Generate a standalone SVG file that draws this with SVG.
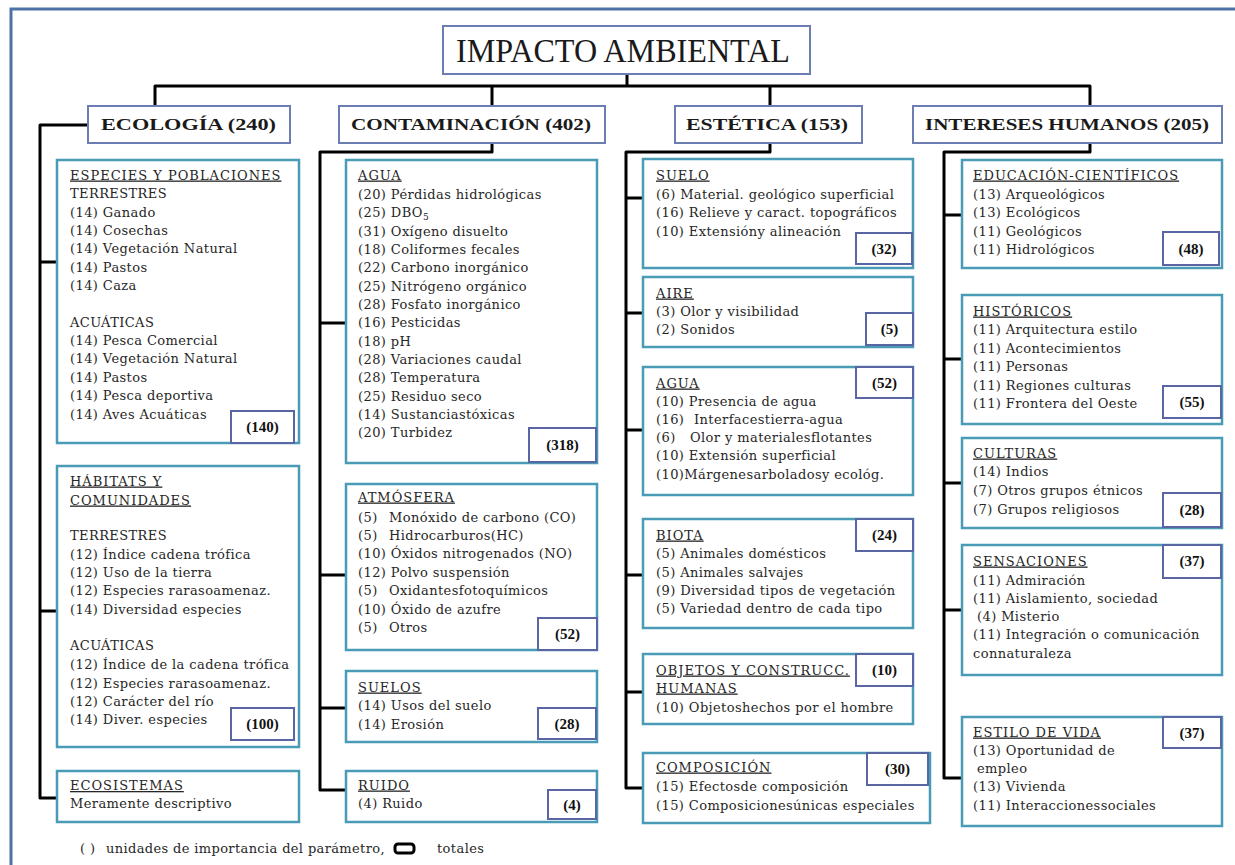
<svg xmlns="http://www.w3.org/2000/svg" width="1235" height="865" viewBox="0 0 1235 865">
<style>
.frame{fill:#fff;stroke:#4f72a6;stroke-width:3}
.sub{fill:#fff;stroke:#4a9bb5;stroke-width:2.5}
.cat{fill:#fff;stroke:#6b7db3;stroke-width:2}
.tot{fill:#fff;stroke:#5a65a3;stroke-width:2}
.t{font-family:"DejaVu Serif","Liberation Serif",serif;font-size:13px;letter-spacing:0.4px;fill:#262626}
.h{text-decoration:underline;letter-spacing:1px}
.tt{font-family:"Liberation Serif",serif;font-weight:bold;font-size:15px;text-anchor:middle;fill:#111}
.ct{font-family:"Liberation Serif",serif;font-weight:bold;font-size:17px;fill:#1a1a1a}
.title{font-family:"Liberation Serif",serif;font-size:34px;fill:#1a1a1a}
.conn path{stroke:#000;stroke-width:3;fill:none;stroke-linejoin:round}
</style>
<rect class="frame" x="11" y="9" width="1240" height="880"/>

<g class="conn" id="connectors">
<path d="M627,74 V86 M155,106 V86 H1090 V106 M492,86 V106 M770,86 V106"/>
<path d="M88,125 H40 V798 H57 M40,262 H57 M40,611 H57"/>
<path d="M492,143 V152 H320 V790 H346 M320,323 H346 M320,575 H346 M320,708 H346"/>
<path d="M770,143 V152 H626 V788 H643 M626,198 H643 M626,313 H643 M626,430 H643 M626,575 H643 M626,692 H643"/>
<path d="M1090,143 V152 H944 V778 H962 M944,215 H962 M944,359 H962 M944,483 H962 M944,610 H962"/>
</g>

<g id="title">
<rect class="cat" x="443" y="26" width="367" height="48"/>
<text class="title" x="456" y="62" textLength="334" lengthAdjust="spacingAndGlyphs">IMPACTO AMBIENTAL</text>
</g>

<g id="cat-ecologia">
<rect class="cat" x="88" y="106" width="202" height="37"/>
<text class="ct" x="101" y="130" textLength="175" lengthAdjust="spacingAndGlyphs">ECOLOGÍA (240)</text>
</g>
<g id="cat-contaminacion">
<rect class="cat" x="339" y="106" width="266" height="37"/>
<text class="ct" x="351" y="130" textLength="240" lengthAdjust="spacingAndGlyphs">CONTAMINACIÓN (402)</text>
</g>
<g id="cat-estetica">
<rect class="cat" x="675" y="106" width="187" height="37"/>
<text class="ct" x="686" y="130" textLength="162" lengthAdjust="spacingAndGlyphs">ESTÉTICA (153)</text>
</g>
<g id="cat-intereses">
<rect class="cat" x="913" y="106" width="309" height="37"/>
<text class="ct" x="925" y="130" textLength="284" lengthAdjust="spacingAndGlyphs">INTERESES HUMANOS (205)</text>
</g>

<!-- Column 1 -->
<g id="especies">
<rect class="sub" x="57" y="160" width="242" height="283"/>
<text class="t"><tspan class="h" x="70" y="179.5">ESPECIES Y POBLACIONES</tspan>
<tspan x="70" y="198">TERRESTRES</tspan>
<tspan x="70" y="216.5">(14) Ganado</tspan>
<tspan x="70" y="234.5">(14) Cosechas</tspan>
<tspan x="70" y="253">(14) Vegetación Natural</tspan>
<tspan x="70" y="271.5">(14) Pastos</tspan>
<tspan x="70" y="289.5">(14) Caza</tspan>
<tspan x="70" y="326.5">ACUÁTICAS</tspan>
<tspan x="70" y="344.5">(14) Pesca Comercial</tspan>
<tspan x="70" y="363">(14) Vegetación Natural</tspan>
<tspan x="70" y="381.5">(14) Pastos</tspan>
<tspan x="70" y="400">(14) Pesca deportiva</tspan>
<tspan x="70" y="418.5">(14) Aves Acuáticas</tspan></text>
<rect class="tot" x="231" y="411" width="63" height="32"/>
<text class="tt" x="262.5" y="432">(140)</text>
</g>

<g id="habitats">
<rect class="sub" x="57" y="466" width="242" height="281"/>
<text class="t"><tspan class="h" x="70" y="485.5">HÁBITATS Y</tspan>
<tspan class="h" x="70" y="504.5">COMUNIDADES</tspan>
<tspan x="70" y="539.5">TERRESTRES</tspan>
<tspan x="70" y="558.5">(12) Índice cadena trófica</tspan>
<tspan x="70" y="576.5">(12) Uso de la tierra</tspan>
<tspan x="70" y="594.5">(12) Especies rarasoamenaz.</tspan>
<tspan x="70" y="613.5">(14) Diversidad especies</tspan>
<tspan x="70" y="649.5">ACUÁTICAS</tspan>
<tspan x="70" y="668.5">(12) Índice de la cadena trófica</tspan>
<tspan x="70" y="687.5">(12) Especies rarasoamenaz.</tspan>
<tspan x="70" y="705.5">(12) Carácter del río</tspan>
<tspan x="70" y="723.5">(14) Diver.  especies</tspan></text>
<rect class="tot" x="231" y="708" width="63" height="32"/>
<text class="tt" x="262.5" y="729">(100)</text>
</g>

<g id="ecosistemas">
<rect class="sub" x="57" y="771" width="242" height="51"/>
<text class="t"><tspan class="h" x="70" y="790">ECOSISTEMAS</tspan>
<tspan x="70" y="808">Meramente descriptivo</tspan></text>
</g>

<!-- Column 2 -->
<g id="agua-cont">
<rect class="sub" x="346" y="160" width="251" height="303"/>
<text class="t"><tspan class="h" x="358" y="179.5">AGUA</tspan>
<tspan x="358" y="198.5">(20) Pérdidas hidrológicas</tspan>
<tspan x="358" y="217">(25) DBO</tspan><tspan font-size="9" dy="3">5</tspan>
<tspan x="358" y="235.5">(31) Oxígeno disuelto</tspan>
<tspan x="358" y="253.5">(18) Coliformes fecales</tspan>
<tspan x="358" y="272">(22) Carbono inorgánico</tspan>
<tspan x="358" y="290.5">(25) Nitrógeno orgánico</tspan>
<tspan x="358" y="308.5">(28) Fosfato inorgánico</tspan>
<tspan x="358" y="327">(16) Pesticidas</tspan>
<tspan x="358" y="345.5">(18) pH</tspan>
<tspan x="358" y="363.5">(28) Variaciones caudal</tspan>
<tspan x="358" y="382">(28) Temperatura</tspan>
<tspan x="358" y="400.5">(25) Residuo seco</tspan>
<tspan x="358" y="418.5">(14) Sustanciastóxicas</tspan>
<tspan x="358" y="437">(20) Turbidez</tspan></text>
<rect class="tot" x="529" y="428" width="67" height="34"/>
<text class="tt" x="562.5" y="450">(318)</text>
</g>

<g id="atmosfera">
<rect class="sub" x="346" y="484" width="251" height="166"/>
<text class="t"><tspan class="h" x="358" y="501.5">ATMÓSFERA</tspan>
<tspan x="358" y="521.5">(5)</tspan><tspan x="389">Monóxido de carbono (CO)</tspan>
<tspan x="358" y="539.5">(5)</tspan><tspan x="389">Hidrocarburos(HC)</tspan>
<tspan x="358" y="557.5">(10) Óxidos nitrogenados (NO)</tspan>
<tspan x="358" y="576.5">(12) Polvo suspensión</tspan>
<tspan x="358" y="594.5">(5)</tspan><tspan x="389">Oxidantesfotoquímicos</tspan>
<tspan x="358" y="613.5">(10) Óxido de azufre</tspan>
<tspan x="358" y="631.5">(5)</tspan><tspan x="389">Otros</tspan></text>
<rect class="tot" x="538" y="618" width="59" height="32"/>
<text class="tt" x="567.5" y="639">(52)</text>
</g>

<g id="suelos">
<rect class="sub" x="346" y="671" width="251" height="71"/>
<text class="t"><tspan class="h" x="358" y="691.5">SUELOS</tspan>
<tspan x="358" y="709.5">(14) Usos del suelo</tspan>
<tspan x="358" y="728.5">(14) Erosión</tspan></text>
<rect class="tot" x="538" y="708" width="58" height="31"/>
<text class="tt" x="567" y="729">(28)</text>
</g>

<g id="ruido">
<rect class="sub" x="346" y="771" width="251" height="51"/>
<text class="t"><tspan class="h" x="358" y="789.5">RUIDO</tspan>
<tspan x="358" y="807.5">(4) Ruido</tspan></text>
<rect class="tot" x="548" y="790" width="48" height="29"/>
<text class="tt" x="572" y="810">(4)</text>
</g>

<!-- Column 3 -->
<g id="suelo-est">
<rect class="sub" x="643" y="159" width="270" height="109"/>
<text class="t"><tspan class="h" x="656" y="179.5">SUELO</tspan>
<tspan x="656" y="198.5">(6) Material. geológico  superficial</tspan>
<tspan x="656" y="216.5">(16) Relieve y caract. topográficos</tspan>
<tspan x="656" y="235.5">(10) Extensióny alineación</tspan></text>
<rect class="tot" x="856" y="233" width="56" height="31"/>
<text class="tt" x="884" y="253.5">(32)</text>
</g>

<g id="aire">
<rect class="sub" x="643" y="277" width="270" height="70"/>
<text class="t"><tspan class="h" x="656" y="297.5">AIRE</tspan>
<tspan x="656" y="315.5">(3) Olor y visibilidad</tspan>
<tspan x="656" y="333.5">(2) Sonidos</tspan></text>
<rect class="tot" x="866" y="313" width="47" height="32"/>
<text class="tt" x="889.5" y="334">(5)</text>
</g>

<g id="agua-est">
<rect class="sub" x="643" y="367" width="270" height="128"/>
<text class="t"><tspan class="h" x="656" y="387.5">AGUA</tspan>
<tspan x="656" y="405.5">(10) Presencia de agua</tspan>
<tspan x="656" y="423.5">(16)</tspan><tspan x="694">Interfacestierra-agua</tspan>
<tspan x="656" y="441.5">(6)</tspan><tspan x="690">Olor y materialesflotantes</tspan>
<tspan x="656" y="459.5">(10) Extensión superficial</tspan>
<tspan x="656" y="478.5">(10)Márgenesarboladosy ecológ.</tspan></text>
<rect class="tot" x="856" y="367" width="57" height="31"/>
<text class="tt" x="884.5" y="388">(52)</text>
</g>

<g id="biota">
<rect class="sub" x="643" y="519" width="270" height="109"/>
<text class="t"><tspan class="h" x="656" y="539.5">BIOTA</tspan>
<tspan x="656" y="557.5">(5) Animales domésticos</tspan>
<tspan x="656" y="576.5">(5) Animales salvajes</tspan>
<tspan x="656" y="594.5">(9) Diversidad tipos de vegetación</tspan>
<tspan x="656" y="612.5">(5) Variedad dentro de cada tipo</tspan></text>
<rect class="tot" x="856" y="519" width="57" height="32"/>
<text class="tt" x="884.5" y="540">(24)</text>
</g>

<g id="objetos">
<rect class="sub" x="643" y="654" width="270" height="70"/>
<text class="t"><tspan class="h" x="656" y="674.5">OBJETOS Y CONSTRUCC.</tspan>
<tspan class="h" x="656" y="692.5">HUMANAS</tspan>
<tspan x="656" y="711.5">(10) Objetoshechos por el hombre</tspan></text>
<rect class="tot" x="856" y="654" width="57" height="32"/>
<text class="tt" x="884.5" y="675">(10)</text>
</g>

<g id="composicion">
<rect class="sub" x="643" y="753" width="287" height="70"/>
<text class="t"><tspan class="h" x="656" y="771.5">COMPOSICIÓN</tspan>
<tspan x="656" y="790.5">(15) Efectosde composición</tspan>
<tspan x="656" y="809.5">(15) Composicionesúnicas especiales</tspan></text>
<rect class="tot" x="867" y="753" width="61" height="32"/>
<text class="tt" x="897.5" y="774">(30)</text>
</g>

<!-- Column 4 -->
<g id="educacion">
<rect class="sub" x="962" y="160" width="260" height="108"/>
<text class="t"><tspan class="h" x="973" y="179.5">EDUCACIÓN-CIENTÍFICOS</tspan>
<tspan x="973" y="198.5">(13) Arqueológicos</tspan>
<tspan x="973" y="216.5">(13) Ecológicos</tspan>
<tspan x="973" y="235.5">(11) Geológicos</tspan>
<tspan x="973" y="253.5">(11) Hidrológicos</tspan></text>
<rect class="tot" x="1163" y="232" width="56" height="33"/>
<text class="tt" x="1191" y="253.5">(48)</text>
</g>

<g id="historicos">
<rect class="sub" x="962" y="295" width="260" height="129"/>
<text class="t"><tspan class="h" x="973" y="315.5">HISTÓRICOS</tspan>
<tspan x="973" y="333.5">(11) Arquitectura estilo</tspan>
<tspan x="973" y="352.5">(11) Acontecimientos</tspan>
<tspan x="973" y="370.5">(11) Personas</tspan>
<tspan x="973" y="389.5">(11) Regiones culturas</tspan>
<tspan x="973" y="407.5">(11) Frontera del Oeste</tspan></text>
<rect class="tot" x="1163" y="386" width="58" height="32"/>
<text class="tt" x="1192" y="407">(55)</text>
</g>

<g id="culturas">
<rect class="sub" x="962" y="438" width="260" height="90"/>
<text class="t"><tspan class="h" x="973" y="457.5">CULTURAS</tspan>
<tspan x="973" y="475.5">(14) Indios</tspan>
<tspan x="973" y="494.5">(7) Otros grupos étnicos</tspan>
<tspan x="973" y="513.5">(7) Grupos religiosos</tspan></text>
<rect class="tot" x="1163" y="493" width="58" height="34"/>
<text class="tt" x="1192" y="515">(28)</text>
</g>

<g id="sensaciones">
<rect class="sub" x="962" y="545" width="260" height="130"/>
<text class="t"><tspan class="h" x="973" y="565.5">SENSACIONES</tspan>
<tspan x="973" y="584.5">(11) Admiración</tspan>
<tspan x="973" y="602.5">(11) Aislamiento, sociedad</tspan>
<tspan x="977" y="620.5">(4) Misterio</tspan>
<tspan x="973" y="638.5">(11) Integración o comunicación</tspan>
<tspan x="973" y="657.5">connaturaleza</tspan></text>
<rect class="tot" x="1163" y="545" width="58" height="33"/>
<text class="tt" x="1192" y="566">(37)</text>
</g>

<g id="estilo">
<rect class="sub" x="962" y="717" width="260" height="109"/>
<text class="t"><tspan class="h" x="973" y="736.5">ESTILO DE VIDA</tspan>
<tspan x="973" y="754.5">(13) Oportunidad de</tspan>
<tspan x="977" y="772.5">empleo</tspan>
<tspan x="973" y="790.5">(13) Vivienda</tspan>
<tspan x="973" y="809.5">(11) Interaccionessociales</tspan></text>
<rect class="tot" x="1163" y="717" width="58" height="31"/>
<text class="tt" x="1192" y="738">(37)</text>
</g>

<g id="legend">
<text class="t" y="853"><tspan x="80">(</tspan><tspan x="90">)</tspan><tspan x="106" textLength="279" lengthAdjust="spacing">unidades de importancia del parámetro,</tspan></text>
<rect x="395" y="844" width="19" height="9" rx="3" fill="#fff" stroke="#000" stroke-width="3"/>
<text class="t" x="437" y="853">totales</text>
</g>
</svg>
